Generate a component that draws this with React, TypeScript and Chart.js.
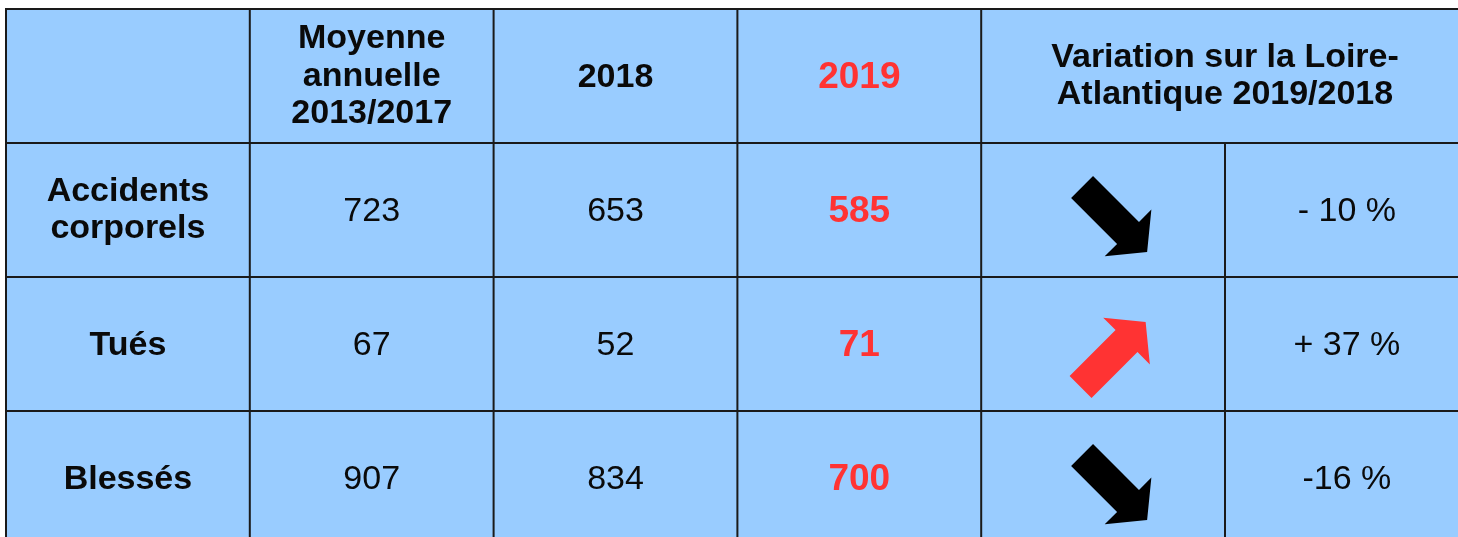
import React, { useEffect, useRef } from "react";
import { Chart, registerables } from "chart.js";

Chart.register(...registerables);

// ---- Data ----
const headerLabels: string[][] = [
  [""],
  ["Moyenne", "annuelle", "2013/2017"],
  ["2018"],
  ["2019"],
  ["Variation sur la Loire-", "Atlantique 2019/2018"],
];
const rowLabels: string[][] = [["Accidents", "corporels"], ["Tués"], ["Blessés"]];
const average2013to2017 = [723, 67, 907];
const values2018 = [653, 52, 834];
const values2019 = [585, 71, 700];
const variationText = ["- 10 %", "+ 37 %", "-16 %"];
const variationDirection = ["down", "up", "down"];

// ---- Styles ----
const BG = "#99ccff";
const BORDER = "#1a1a1a";
const TEXT = "#0a0a0a";
const RED = "#ff3333";
const FONT = '"Liberation Sans", Arial, sans-serif';
const SIZE = 34;
const RED_SIZE = 37;
const LINE_H = 37.5;

function drawLines(
  ctx: CanvasRenderingContext2D,
  lines: string[],
  cx: number,
  cy: number,
  size: number,
  bold: boolean,
  color: string
) {
  ctx.save();
  ctx.font = `${bold ? "bold " : ""}${size}px ${FONT}`;
  ctx.fillStyle = color;
  ctx.textAlign = "center";
  ctx.textBaseline = "alphabetic";
  const n = lines.length;
  const shift = n > 1 ? -2.5 : -1.5;
  lines.forEach((t, i) => {
    const by = cy + 0.358 * size + (i - (n - 1) / 2) * LINE_H + shift;
    ctx.fillText(t, cx, by);
  });
  ctx.restore();
}

function drawArrow(
  ctx: CanvasRenderingContext2D,
  cx: number,
  cy: number,
  angle: number,
  color: string
) {
  ctx.save();
  ctx.translate(cx, cy);
  ctx.rotate(angle);
  ctx.fillStyle = color;
  ctx.beginPath();
  ctx.moveTo(-46, -15.5);
  ctx.lineTo(19, -15.5);
  ctx.lineTo(19, -33);
  ctx.lineTo(46, 0);
  ctx.lineTo(19, 33);
  ctx.lineTo(19, 15.5);
  ctx.lineTo(-46, 15.5);
  ctx.closePath();
  ctx.fill();
  ctx.restore();
}

const tablePlugin = {
  id: "tablePlugin",
  beforeDraw(chart: any) {
    const { ctx, chartArea } = chart;
    ctx.save();
    ctx.fillStyle = "#ffffff";
    ctx.fillRect(0, 0, chart.width, chart.height);
    ctx.fillStyle = BG;
    ctx.fillRect(chartArea.left, chartArea.top, chart.width - chartArea.left, chart.height - chartArea.top);
    ctx.restore();
  },
  afterDraw(chart: any) {
    const { ctx, scales } = chart;
    const x = scales.x;
    const y = scales.y;
    const px = (v: number) => x.getPixelForValue(v);
    const py = (v: number) => y.getPixelForValue(v);

    // borders
    ctx.save();
    ctx.strokeStyle = BORDER;
    ctx.lineWidth = 2;
    ctx.beginPath();
    for (let r = 0; r <= rowLabels.length + 1; r++) {
      ctx.moveTo(px(0) - 1, py(r));
      ctx.lineTo(px(6) + 10, py(r));
    }
    for (let c = 0; c <= 5; c++) {
      const startRow = c === 5 ? 1 : 0;
      ctx.moveTo(px(c), py(startRow) - 1);
      ctx.lineTo(px(c), py(5) + 10);
    }
    ctx.stroke();
    ctx.restore();

    // header
    headerLabels.forEach((lines, c) => {
      if (!lines[0]) return;
      const isVar = c === 4;
      const cx = isVar ? px(5) : px(c + 0.5);
      const red = c === 3;
      drawLines(ctx, lines, cx, py(0.5), red ? RED_SIZE : SIZE, true, red ? RED : TEXT);
    });

    // body rows
    rowLabels.forEach((lbl, r) => {
      const cy = py(r + 1.5);
      drawLines(ctx, lbl, px(0.5), cy, SIZE, true, TEXT);
      drawLines(ctx, [String(average2013to2017[r])], px(1.5), cy, SIZE, false, TEXT);
      drawLines(ctx, [String(values2018[r])], px(2.5), cy, SIZE, false, TEXT);
      drawLines(ctx, [String(values2019[r])], px(3.5), cy, RED_SIZE, true, RED);
      const up = variationDirection[r] === "up";
      drawArrow(
        ctx,
        px(4.5) + (up ? 10 : 11.5),
        cy + (up ? 10.5 : 9.5),
        up ? -Math.PI / 4 : Math.PI / 4,
        up ? RED : "#000000"
      );
      drawLines(ctx, [variationText[r]], px(5.5), cy, SIZE, false, TEXT);
    });
  },
};

export default function App() {
  const canvasRef = useRef<HTMLCanvasElement | null>(null);

  useEffect(() => {
    if (!canvasRef.current) return;
    const cellPoints = rowLabels.flatMap((_, r) =>
      [0, 1, 2, 3, 4, 5].map((c) => ({ x: c + 0.5, y: r + 1.5 }))
    );
    const chart = new Chart(canvasRef.current, {
      type: "scatter",
      data: {
        datasets: [
          {
            data: cellPoints,
            pointRadius: 0,
            pointHoverRadius: 0,
          },
        ],
      },
      options: {
        responsive: true,
        maintainAspectRatio: false,
        animation: false,
        events: [],
        layout: { padding: { left: 6, top: 9, right: 0, bottom: 0 } },
        plugins: {
          legend: { display: false },
          tooltip: { enabled: false },
        },
        scales: {
          x: { type: "linear", min: 0, max: 1452 / 243.8, display: false },
          y: { type: "linear", min: 0, max: 528 / 134, reverse: true, display: false },
        },
      },
      plugins: [tablePlugin],
    });
    return () => chart.destroy();
  }, []);

  return (
    <div style={{ position: "absolute", left: 0, top: 0, width: 1458, height: 537 }}>
      <canvas ref={canvasRef} />
    </div>
  );
}
